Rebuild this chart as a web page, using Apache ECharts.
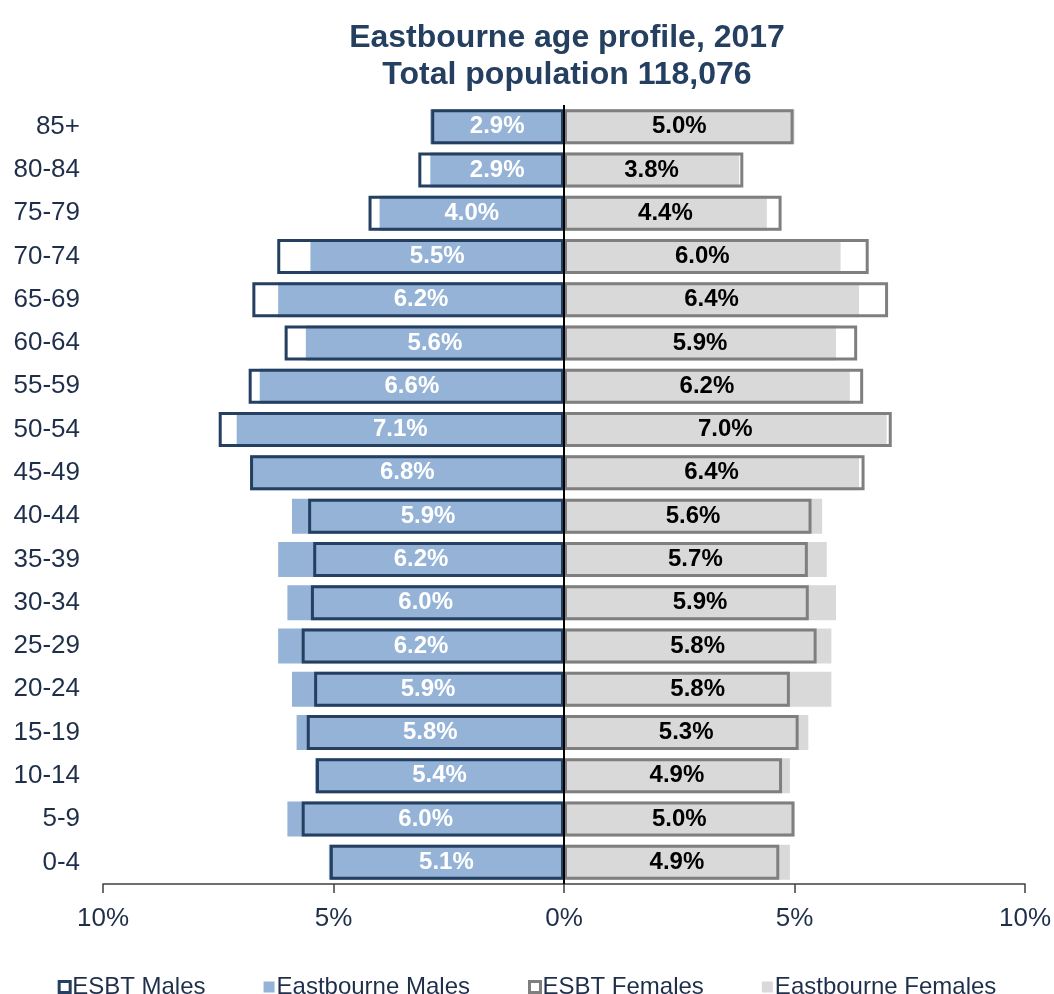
<!DOCTYPE html>
<html>
<head>
<meta charset="utf-8">
<script src="https://cdn.jsdelivr.net/npm/echarts@6/dist/echarts.min.js"></script>
<style>
html,body{margin:0;padding:0;background:#fff;}
#chart{width:1054px;height:994px;}
</style>
</head>
<body>
<div id="chart"></div>
<script>
// Age bands, bottom to top
var categories = ['0-4','5-9','10-14','15-19','20-24','25-29','30-34','35-39','40-44','45-49','50-54','55-59','60-64','65-69','70-74','75-79','80-84','85+'];
// Percent of population (same order as categories)
var esbtMales          = [5.08, 5.69, 5.38, 5.58, 5.42, 5.69, 5.49, 5.44, 5.55, 6.81, 7.49, 6.84, 6.06, 6.76, 6.22, 4.24, 3.16, 2.88];
var eastbourneMales    = [5.1, 6.0, 5.4, 5.8, 5.9, 6.2, 6.0, 6.2, 5.9, 6.8, 7.1, 6.6, 5.6, 6.2, 5.5, 4.0, 2.9, 2.9];
var esbtFemales        = [4.67, 5.00, 4.73, 5.09, 4.90, 5.48, 5.31, 5.29, 5.37, 6.52, 7.11, 6.49, 6.36, 7.03, 6.61, 4.72, 3.89, 4.98];
var eastbourneFemales  = [4.9, 5.0, 4.9, 5.3, 5.8, 5.8, 5.9, 5.7, 5.6, 6.4, 7.0, 6.2, 5.9, 6.4, 6.0, 4.4, 3.8, 5.0];
var axisTicks = [-10, -5, 0, 5, 10];

var NAVY = '#243F60';
var TEXT = '#1F2F4A';
var FONT = 'Liberation Sans, Arial';
var chart = echarts.init(document.getElementById('chart'));
function neg(a){ return a.map(function(v){ return -v; }); }
function pct(p){ return Math.abs(p.value).toFixed(1) + '%'; }

chart.setOption({
  animation: false,
  backgroundColor: '#fff',
  title: {
    text: 'Eastbourne age profile, 2017\nTotal population 118,076',
    left: 562, top: 15, textAlign: 'center',
    textStyle: { fontFamily: FONT, fontSize: 32, fontWeight: 'bold', color: NAVY, lineHeight: 37 }
  },
  legend: {
    top: 970, left: 'center', icon: 'rect', itemWidth: 11, itemHeight: 11, itemGap: 58,
    textStyle: { fontFamily: FONT, fontSize: 24, color: TEXT, padding: [0,0,0,-3] },
    data: [
      { name: 'ESBT Males', itemStyle: { color: '#fff', borderColor: NAVY, borderWidth: 3 } },
      { name: 'Eastbourne Males' },
      { name: 'ESBT Females', itemStyle: { color: '#fff', borderColor: '#7F7F7F', borderWidth: 3 } },
      { name: 'Eastbourne Females' }
    ]
  },
  grid: { left: 103, right: 27, top: 105, bottom: 110, containLabel: false },
  xAxis: {
    type: 'value', min: axisTicks[0], max: axisTicks[axisTicks.length-1], interval: 5,
    splitLine: { show: false },
    axisLine: { show: true, lineStyle: { color: '#404040', width: 1.5 } },
    axisTick: { show: true, length: 9, lineStyle: { color: '#404040', width: 1.5 } },
    axisLabel: { margin: 22, fontFamily: FONT, fontSize: 26, color: TEXT,
      formatter: function(v){ return Math.abs(v) + '%'; } }
  },
  yAxis: {
    type: 'category', data: categories,
    axisLine: { show: false }, axisTick: { show: false },
    axisLabel: { margin: 23, fontFamily: FONT, fontSize: 26, color: TEXT }
  },
  series: [
    { name: 'Eastbourne Males', type: 'bar', data: neg(eastbourneMales), barWidth: 35, barGap: '-100%', z: 2,
      itemStyle: { color: '#95B3D7' },
      label: { show: true, position: 'inside', formatter: pct, color: '#fff', fontFamily: FONT, fontSize: 24, fontWeight: 'bold' } },
    { name: 'Eastbourne Females', type: 'bar', data: eastbourneFemales, barWidth: 35, barGap: '-100%', z: 2,
      itemStyle: { color: '#D9D9D9' },
      label: { show: true, position: 'inside', formatter: pct, color: '#000', fontFamily: FONT, fontSize: 24, fontWeight: 'bold' } },
    { name: 'ESBT Males', type: 'bar', data: neg(esbtMales), barWidth: 35, barGap: '-100%', z: 3,
      itemStyle: { color: 'rgba(0,0,0,0)', borderColor: NAVY, borderWidth: 3 } },
    { name: 'ESBT Females', type: 'bar', data: esbtFemales, barWidth: 35, barGap: '-100%', z: 3,
      itemStyle: { color: 'rgba(0,0,0,0)', borderColor: '#7F7F7F', borderWidth: 3 },
      markLine: { silent: true, symbol: 'none', label: { show: false },
        lineStyle: { color: '#000', width: 2, type: 'solid' }, data: [{ xAxis: 0 }] } }
  ]
});
</script>
</body>
</html>
